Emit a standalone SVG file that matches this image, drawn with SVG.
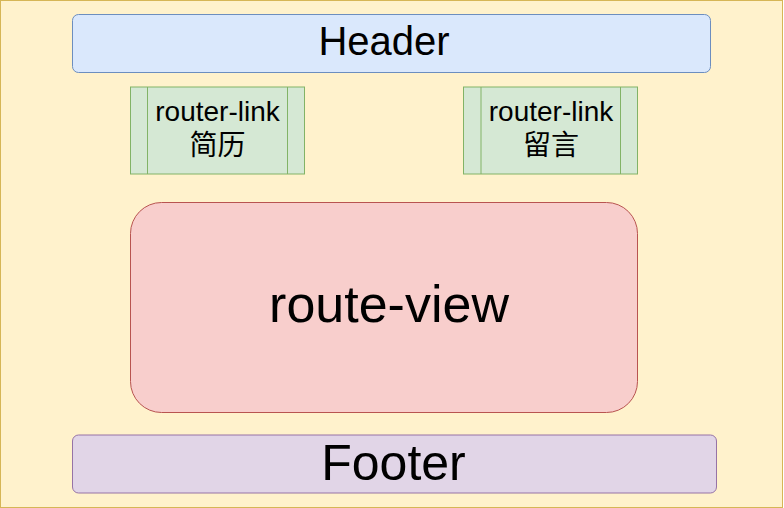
<svg xmlns="http://www.w3.org/2000/svg" width="784" height="508" viewBox="0 0 784 508">
<style>
text{font-family:"Liberation Sans",Arial,"Noto Sans CJK SC",sans-serif;fill:#000;text-anchor:middle}
.link rect,.link line{fill:#d5e8d4;stroke:#82b366;stroke-width:1}
</style>
<g id="background"><rect x="0.5" y="0.5" width="782" height="507" fill="#fff2cc" stroke="#d6b656"/></g>
<g id="header"><rect x="72.5" y="14.5" width="638" height="58" rx="6" fill="#dae8fc" stroke="#6c8ebf"/><text x="384" y="54.5" font-size="40">Header</text></g>
<g id="link-resume" class="link"><rect x="130.5" y="87" width="174" height="87"/><line x1="147.5" y1="87" x2="147.5" y2="174"/><line x1="287.5" y1="87" x2="287.5" y2="174"/><text x="217.5" y="121" font-size="28">router-link</text><text x="217.5" y="155" font-size="28">简历</text></g>
<g id="link-message" class="link"><rect x="463.5" y="87" width="174" height="87"/><line x1="481" y1="87" x2="481" y2="174"/><line x1="620.5" y1="87" x2="620.5" y2="174"/><text x="551" y="121" font-size="28">router-link</text><text x="551" y="155" font-size="28">留言</text></g>
<g id="route-view"><rect x="130.5" y="202.5" width="507" height="210" rx="31" fill="#f8cecc" stroke="#b85450"/><text x="389" y="322" font-size="52">route-view</text></g>
<g id="footer"><rect x="72.5" y="435" width="644" height="58" rx="6" fill="#e1d5e7" stroke="#9673a6"/><text x="393.5" y="480" font-size="50">Footer</text></g>
<g id="connectors"/>
</svg>
